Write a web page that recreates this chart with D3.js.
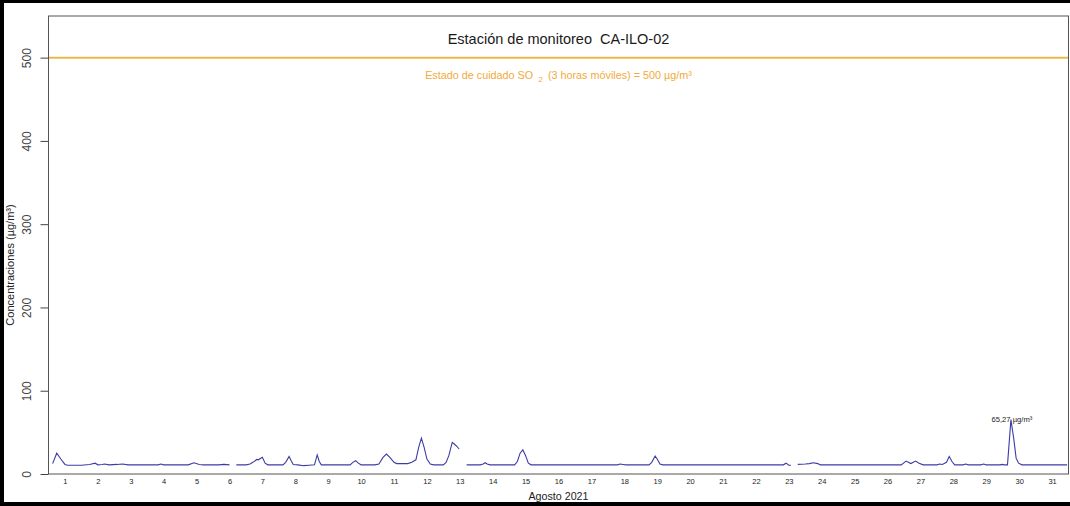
<!DOCTYPE html>
<html>
<head>
<meta charset="utf-8">
<script src="https://cdn.jsdelivr.net/npm/d3@7"></script>
<style>
  body { margin: 0; background: #fff; }
  svg { display: block; font-family: "Liberation Sans", Arial, sans-serif; }
  text { white-space: pre; }
</style>
</head>
<body>
<svg id="canvas"></svg>
<script>
// hours counted from 1 Aug 2021 00:00, null = missing data
const hours = [
  3, 6, 9, 12, 14, 24, 30, 34, 36, 39, 41, 44, 50, 54, 58, 80, 82, 84, 102, 106,
  110, 113, 124, 128, 132, 134, 137, 144, 147, 149, 152, 153, 156, 158, 160, 171,
  173, 175.5, 177, 178.5, 182, 186, 190, 194, 196, 197.5, 199, 220, 222, 224, 226,
  228, 238, 241, 244, 246.5, 249, 252, 254, 262, 265, 268, 270, 272, 274, 276,
  278.5, 281, 288, 290, 292, 294.5, 296, 298, 299.5, 302, 305, 315, 317, 318.5,
  320, 322, 340, 342, 344, 346, 348, 350, 352, 415, 417, 419, 421, 438, 440,
  442.5, 444, 446, 448, 536, 538, 540, 541.5, 544, 546.5, 552, 555, 558, 561, 563,
  622, 625.5, 629, 632.5, 635, 638, 648, 650, 652, 655, 657, 659, 661, 667, 669,
  671, 680, 682, 684, 694, 695.5, 697, 699.5, 702, 704, 705.8, 707.6, 710, 743
];
const concentrations = [
  12.5, 25, 18, 11.5, 10.5, 10.5, 11.5, 13, 11, 11.5, 12, 11, 11.5, 12, 11, 11, 12, 11, 11, 13.5,
  11.5, 11, 11, 11.5, 11, null, 11, 11, 12, 14, 17.5, 17, 20, 13, 11, 11,
  14, 21, 16, 11.5, 11, 10, 10.5, 11, 23, 15, 11, 11, 14, 16, 13,
  11, 11, 12, 20, 24, 20, 14, 12.5, 12.5, 14, 17, 32, 43, 32, 18,
  12, 11, 11, 14, 22, 38, 36, 33, 30, null, 11, 11, 12, 13.5,
  12, 11, 11, 15, 25, 29, 22, 13, 11, 11, 12, 11.5, 11, 11, 14,
  21.5, 18, 12, 11, 11, 13, 10.5, 10.5, null, 11.5, 12, 12.5, 13.5, 12.5, 11,
  11, 15.5, 12.5, 15.5, 13, 11, 11, 12, 11.5, 14, 21, 15, 11, 11, 12,
  11, 11, 12, 11, 11, 11.5, 11, 11, 65.27, 43, 19, 13, 11, 11
];

const yTicks = [0, 100, 200, 300, 400, 500];
const dayLabels = [
  1, 2, 3, 4, 5, 6, 7, 8, 9, 10, 11, 12, 13, 14, 15, 16,
  17, 18, 19, 20, 21, 22, 23, 24, 25, 26, 27, 28, 29, 30, 31
];
const limitValue = 500;
const peakHour = 702;
const peakValue = 65.27;

const WIDTH = 1070;
const HEIGHT = 506;
const LEFT = 48.5;
const RIGHT = 1068.5;
const TOP = 16;
const BOTTOM = 474;

const start = new Date(2021, 7, 1);
const toDate = (h) => new Date(start.getTime() + h * 3600 * 1000);

const values = hours.map((h, i) => ({ date: toDate(h), value: concentrations[i] }));

const canvas = d3.select("#canvas").attr("width", WIDTH).attr("height", HEIGHT);

const xScale = d3
  .scaleTime()
  .domain([start, new Date(2021, 8, 1)])
  .range([LEFT, RIGHT]);

const yScale = d3.scaleLinear().domain([0, 550]).range([BOTTOM, TOP]);

// outer frame of the screenshot
canvas
  .append("rect")
  .attr("x", 0.5)
  .attr("y", -0.5)
  .attr("width", WIDTH + 20)
  .attr("height", HEIGHT)
  .attr("fill", "none")
  .attr("stroke", "#000")
  .attr("stroke-width", 7);

// limit line
canvas
  .append("line")
  .attr("x1", LEFT)
  .attr("x2", RIGHT)
  .attr("y1", yScale(limitValue))
  .attr("y2", yScale(limitValue))
  .attr("stroke", "#E9B84C")
  .attr("stroke-width", 2);

const note = canvas
  .append("text")
  .attr("x", (LEFT + RIGHT) / 2)
  .attr("y", 79)
  .attr("text-anchor", "middle")
  .attr("fill", "#F2AA3C")
  .style("font-size", "10.8px");
note.append("tspan").text("Estado de cuidado SO ");
note.append("tspan").attr("dy", 3).style("font-size", "7.8px").text(" 2 ");
note.append("tspan").attr("dy", -3).text(" (3 horas móviles) = 500 µg/m³");

// series
const line = d3
  .line()
  .defined((d) => d.value !== null)
  .x((d) => xScale(d.date))
  .y((d) => yScale(d.value));

canvas
  .append("path")
  .datum(values)
  .attr("d", line)
  .attr("fill", "none")
  .attr("stroke", "#3C3CA6")
  .attr("stroke-width", 1.1);

canvas
  .append("text")
  .attr("x", xScale(toDate(peakHour)) + 1)
  .attr("y", yScale(peakValue) + 2.5)
  .attr("text-anchor", "middle")
  .attr("fill", "#222")
  .style("font-size", "7.6px")
  .text("65,27 µg/m³");

// axes
const xAxis = d3
  .axisBottom(xScale)
  .tickValues(dayLabels.map((d) => new Date(2021, 7, d, 12)))
  .tickFormat((d) => d.getDate())
  .tickSize(0)
  .tickPadding(4.5);

const gx = canvas
  .append("g")
  .attr("transform", `translate(0, ${BOTTOM})`)
  .call(xAxis);
gx.select(".domain").remove();
gx.selectAll("text")
  .attr("fill", "#222")
  .style("font-size", "7.5px")
  .style("font-family", "'Liberation Sans', Arial, sans-serif");

const yAxis = d3.axisLeft(yScale).tickValues(yTicks).tickSize(8);

const gy = canvas
  .append("g")
  .attr("transform", `translate(${LEFT}, 0)`)
  .call(yAxis);
gy.select(".domain").remove();
gy.selectAll("line").attr("stroke", "#444");
gy.selectAll("text")
  .attr("transform", "rotate(-90)")
  .attr("x", 0)
  .attr("y", -22)
  .attr("dy", "0.35em")
  .attr("text-anchor", "middle")
  .attr("fill", "#444")
  .style("font-size", "12px")
  .style("font-family", "'Liberation Sans', Arial, sans-serif");

// plot box
canvas
  .append("rect")
  .attr("x", LEFT)
  .attr("y", TOP)
  .attr("width", RIGHT - LEFT)
  .attr("height", BOTTOM - TOP)
  .attr("fill", "none")
  .attr("stroke", "#555")
  .attr("stroke-width", 1);

// titles
canvas
  .append("text")
  .attr("x", (LEFT + RIGHT) / 2)
  .attr("y", 44)
  .attr("text-anchor", "middle")
  .attr("fill", "#1a1a1a")
  .style("font-size", "14.5px")
  .text("Estación de monitoreo  CA-ILO-02");

canvas
  .append("text")
  .attr("x", (LEFT + RIGHT) / 2)
  .attr("y", 500)
  .attr("text-anchor", "middle")
  .attr("fill", "#222")
  .style("font-size", "10.7px")
  .text("Agosto 2021");

canvas
  .append("text")
  .attr("transform", `translate(14, 265) rotate(-90)`)
  .attr("text-anchor", "middle")
  .attr("fill", "#222")
  .style("font-size", "11px")
  .text("Concentraciones (µg/m³)");
</script>
</body>
</html>
